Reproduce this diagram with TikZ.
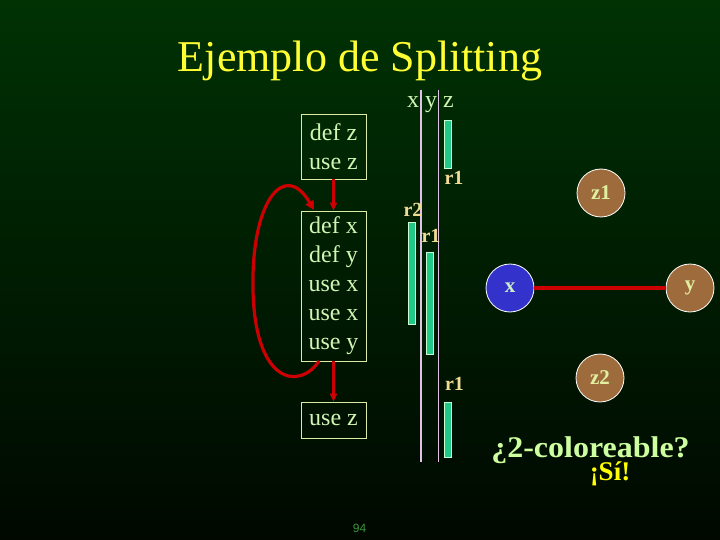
\documentclass[tikz,border=0pt]{standalone}
\usepackage{fontspec}
\setmainfont{Liberation Serif}
\newfontfamily\pgnumfont{Liberation Sans}
\usetikzlibrary{arrows.meta}
\definecolor{bgtop}{RGB}{0,50,4}
\definecolor{bgbot}{RGB}{0,8,0}
\definecolor{titley}{RGB}{255,255,51}
\definecolor{codetext}{RGB}{210,245,180}
\definecolor{boxline}{RGB}{220,235,170}
\definecolor{arrred}{RGB}{204,0,0}
\definecolor{vline}{RGB}{225,195,230}
\definecolor{barfill}{RGB}{34,200,136}
\definecolor{barline}{RGB}{200,255,210}
\definecolor{rlab}{RGB}{240,220,150}
\definecolor{brownn}{RGB}{158,108,60}
\definecolor{bluen}{RGB}{51,51,204}
\definecolor{nodelab}{RGB}{225,240,160}
\definecolor{xlab}{RGB}{205,238,205}
\definecolor{qcol}{RGB}{205,255,160}
\definecolor{sicol}{RGB}{255,255,0}
\definecolor{pgcol}{RGB}{60,150,60}
\begin{document}
\begin{tikzpicture}[x=1pt,y=-1pt,
  codebox/.style={draw=boxline, line width=0.8pt, minimum width=65pt, inner sep=0pt,
    text=codetext, font=\fontsize{24}{29}\selectfont, align=center},
  flow/.style={draw=arrred, line width=2.2pt, -{Triangle[length=8pt,width=7pt]}},
  loopflow/.style={draw=arrred, line width=3.2pt, -{Triangle[length=9pt,width=9pt]}},
  liveline/.style={draw=vline, line width=1.2pt},
  livebar/.style={draw=barline, fill=barfill, line width=0.6pt, minimum width=7pt, inner sep=0pt},
  reglab/.style={anchor=base, text=rlab, font=\fontsize{20}{24}\selectfont\bfseries, inner sep=0pt},
  gnode/.style={circle, draw=white, line width=0.8pt, minimum size=48pt, inner sep=0pt,
    font=\fontsize{21}{24}\selectfont\bfseries},
  brownnode/.style={gnode, fill=brownn, text=nodelab},
  bluenode/.style={gnode, fill=bluen, text=xlab}
]
\useasboundingbox (0,0) rectangle (720,540);
\shade[top color=bgtop, bottom color=bgbot] (0,0) rectangle (720,540);

% title
\node[anchor=base, text=titley, font=\fontsize{44}{52}\selectfont, inner sep=0pt] (title) at (360,72) {Ejemplo de Splitting};

% code boxes
\node[codebox, minimum height=65pt] (b1) at (333.5,146.5) {def z\\use z};
\node[codebox, minimum height=150pt] (b2) at (333.5,286) {def x\\def y\\use x\\use x\\use y};
\node[codebox, minimum height=36pt] (b3) at (333.5,420) {use z};

\draw[flow] (b1.south) -- (b2.north);
\draw[flow] (b2.south) -- (b3.north);
\coordinate (cs) at (319,361);
\coordinate (cm) at (253,290);
\coordinate (ce) at (314,210);
\draw[loopflow] (cs) .. controls (300,390) and (255,385) .. (cm)
  .. controls (251,200) and (285,160) .. (ce);

% live ranges
\node[anchor=base, text=codetext, font=\fontsize{24}{29}\selectfont, inner sep=0pt] (xyz) at (430.5,108) {x y z};
\coordinate (l1t) at (421,90);
\coordinate (l1b) at (421,462);
\coordinate (l2t) at (438.5,90);
\coordinate (l2b) at (438.5,462);
\draw[liveline] (l1t) -- (l1b);
\draw[liveline] (l2t) -- (l2b);

\node[livebar, minimum height=48pt] (zb1) at (447.5,144) {};
\node[livebar, minimum height=102pt] (xb) at (411.5,273) {};
\node[livebar, minimum height=102pt] (yb) at (429.5,303) {};
\node[livebar, minimum height=55pt] (zb2) at (447.5,429.5) {};

\node[reglab] (rz1) at (454,185) {r1};
\node[reglab] (rx) at (413,216) {r2};
\node[reglab] (ry) at (431,243) {r1};
\node[reglab] (rz2) at (454.5,390) {r1};

% interference graph
\node[brownnode] (gz1) at (601,193) {z1};
\node[bluenode] (gx) at (510,288) {x};
\node[brownnode] (gy) at (690,288) {y};
\node[brownnode] (gz2) at (600,378) {z2};
\draw[arrred, line width=4pt] (gx) -- (gy);

% question
\node[anchor=base, text=qcol, font=\fontsize{30}{34}\selectfont\bfseries, inner sep=0pt, text depth=0pt, xscale=1.066, transform shape] (q) at (590.5,457) {¿2-coloreable?};
\node[anchor=base, text=sicol, font=\fontsize{27}{31}\selectfont\bfseries, inner sep=0pt, text height=16pt] (si) at (610,480) {¡Sí!};

% page number
\node[text=pgcol, font=\pgnumfont\fontsize{12}{14}\selectfont, inner sep=0pt] (pg) at (359.5,528) {94};
\end{tikzpicture}
\end{document}
